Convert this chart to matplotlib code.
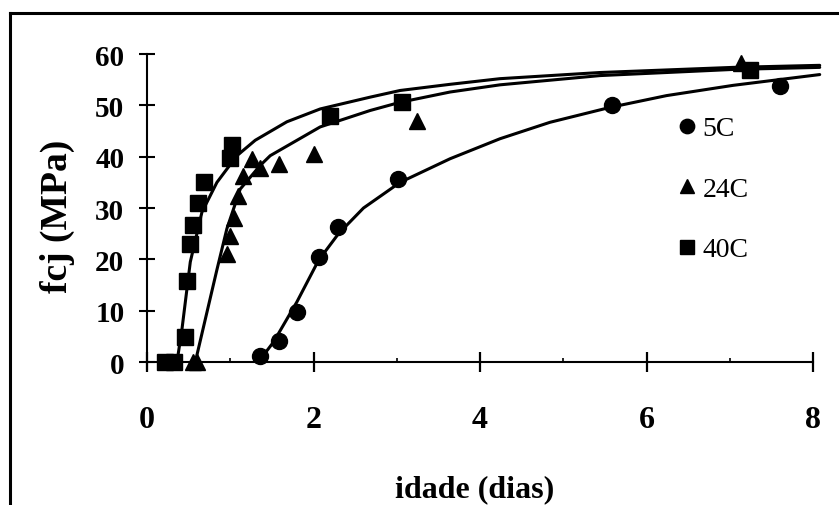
import matplotlib
matplotlib.use("Agg")
import matplotlib.pyplot as plt
from matplotlib.lines import Line2D

plt.rcParams['font.family'] = ['Liberation Serif', 'DejaVu Serif']

# pontos experimentais (idade em dias, fcj em MPa)
x_5c = [1.36, 1.58, 1.80, 2.06, 2.30, 3.02, 5.58, 7.60]
y_5c = [1.2, 4.1, 9.7, 20.5, 26.3, 35.7, 50.0, 53.8]

x_24c = [0.55, 0.60, 0.96, 1.00, 1.04, 1.09, 1.15, 1.26, 1.36, 1.58, 2.00, 3.24, 7.14]
y_24c = [0.0, 0.0, 21.0, 24.6, 28.0, 32.4, 36.3, 39.6, 37.8, 38.6, 40.5, 47.0, 58.3]

x_40c = [0.22, 0.32, 0.46, 0.48, 0.52, 0.55, 0.61, 0.68, 1.00, 1.02, 2.20, 3.06, 7.24]
y_40c = [0.0, 0.0, 4.9, 15.8, 23.0, 26.6, 31.0, 35.0, 39.8, 42.2, 48.0, 50.6, 56.8]

# curvas ajustadas
cx_5c = [1.36, 1.52, 1.80, 2.06, 2.30, 2.60, 3.04, 3.64, 4.24, 4.84, 5.56, 6.24, 7.04, 8.08]
cy_5c = [0.5, 3.9, 11.7, 19.8, 25.0, 30.0, 35.0, 39.6, 43.5, 46.7, 49.6, 51.9, 53.9, 56.0]

cx_24c = [0.58, 0.72, 0.84, 0.96, 1.12, 1.36, 1.48, 2.08, 2.68, 3.04, 3.64, 4.24, 5.44, 7.04, 8.08]
cy_24c = [0.0, 9.7, 18.0, 26.0, 33.7, 38.3, 40.2, 45.8, 49.0, 50.6, 52.6, 54.0, 55.8, 57.0, 57.4]

cx_40c = [0.36, 0.42, 0.52, 0.66, 0.84, 1.08, 1.30, 1.68, 2.08, 2.68, 3.04, 3.64, 4.24, 5.44, 7.04, 8.08]
cy_40c = [0.0, 6.4, 19.5, 29.2, 35.0, 40.2, 43.2, 46.8, 49.3, 51.6, 52.9, 54.1, 55.2, 56.4, 57.4, 57.8]

labels = ['5C', '24C', '40C']
x_ticks = [0, 2, 4, 6, 8]
y_ticks = [0, 10, 20, 30, 40, 50, 60]

W, H = 839, 506
fig = plt.figure(figsize=(W / 100, H / 100), dpi=100)
ax = fig.add_axes([147 / W, 1 - 373.3 / H, (829.7 - 147) / W, (373.3 - 49.9) / H])

lw = 2.2
for cx, cy in [(cx_5c, cy_5c), (cx_24c, cy_24c), (cx_40c, cy_40c)]:
    ax.plot(cx, cy, color='black', lw=lw, solid_joinstyle='round', solid_capstyle='round', clip_on=False)

h5, = ax.plot(x_5c, y_5c, 'o', color='black', ms=11.5, ls='none', clip_on=False)
h24, = ax.plot(x_24c, y_24c, '^', color='black', ms=11.5, ls='none', clip_on=False)
h40, = ax.plot(x_40c, y_40c, 's', color='black', ms=11.5, ls='none', clip_on=False)

ax.set_xlim(0, 8.2)
ax.set_ylim(-2, 61)

for s in ['top', 'right']:
    ax.spines[s].set_visible(False)
ax.spines['bottom'].set_position(('data', 0))
ax.spines['bottom'].set_bounds(0, 8)
ax.spines['left'].set_bounds(-1.4, 60)
ax.spines['bottom'].set_linewidth(1.5)
ax.spines['left'].set_linewidth(1.5)

ax.set_xticks(x_ticks)
ax.set_xticks([1, 3, 5, 7], minor=True)
ax.set_yticks(y_ticks)
ax.tick_params(axis='x', which='major', direction='inout', length=14, width=1.6, pad=24, labelsize=23)
ax.tick_params(axis='x', which='minor', direction='in', length=3, width=1.2)
ax.tick_params(axis='y', direction='inout', length=11.5, width=1.5, pad=10.5, labelsize=21)
for t in ax.get_xticklabels() + ax.get_yticklabels():
    t.set_fontweight('bold')

fig.text(57 / W, 1 - 216 / H, 'fcj (MPa)', rotation=90, ha='center', va='center',
         fontsize=27, fontweight='bold')
fig.text(475 / W, 1 - 490 / H, 'idade (dias)', ha='center', va='center',
         fontsize=23, fontweight='bold')

ax.legend([h5, h24, h40], labels, loc='upper left', bbox_to_anchor=(679 / W, 1 - 117 / H),
          bbox_transform=fig.transFigure, frameon=False, borderpad=0, borderaxespad=0,
          handlelength=0.6, handletextpad=0.25, labelspacing=1.26, markerscale=0.9,
          prop={'size': 20})

# moldura da figura
fig.add_artist(Line2D([10 / W, 10 / W], [0, 1 - 14 / H], color='black', lw=2.2, transform=fig.transFigure))
fig.add_artist(Line2D([10 / W, 1], [1 - 14 / H, 1 - 14 / H], color='black', lw=2.2, transform=fig.transFigure))

fig.savefig('out.png', dpi=100)
